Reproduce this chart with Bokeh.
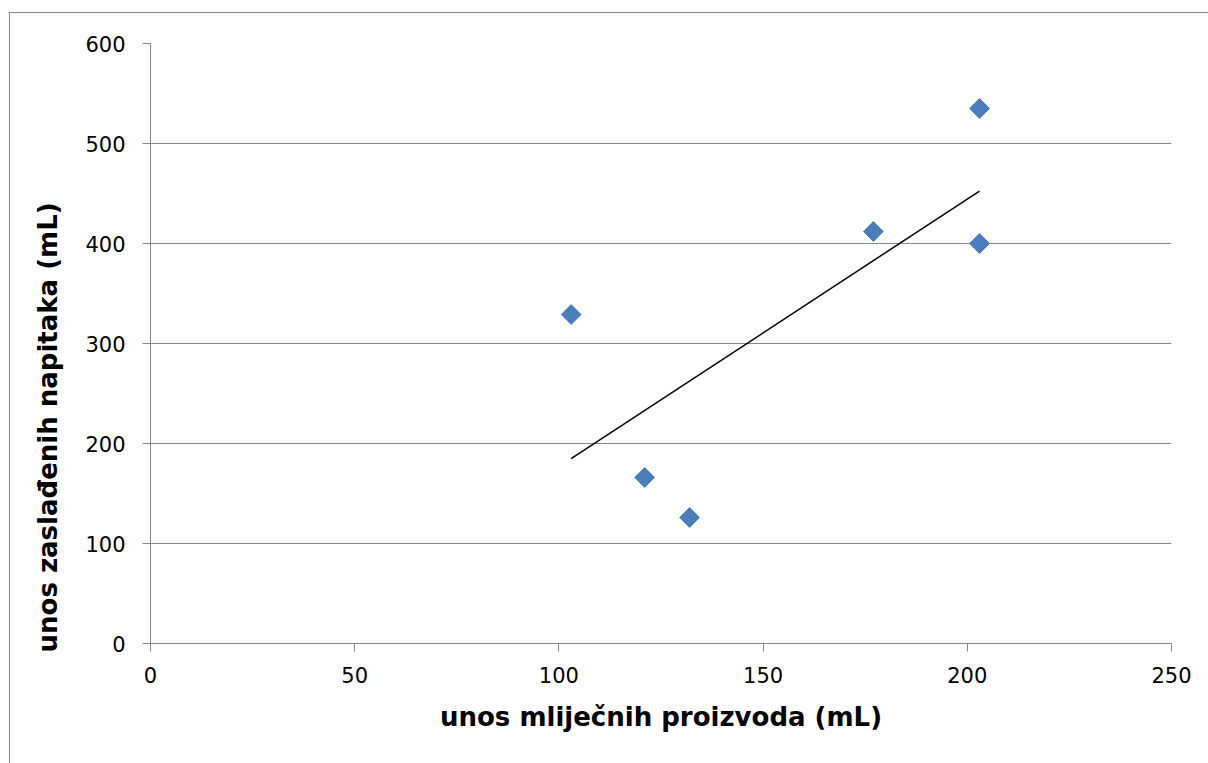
import math
import numpy as np
from bokeh.plotting import figure
from bokeh.models import Range1d, FixedTicker, Title
from bokeh.embed import file_html
from bokeh.resources import INLINE

# data
dairy_ml = [103, 121, 132, 177, 203, 203]
sweet_ml = [329, 166, 126, 412, 535, 400]
x_ticks = [0, 50, 100, 150, 200, 250]
y_ticks = [0, 100, 200, 300, 400, 500, 600]
x_title = "unos mliječnih proizvoda (mL)"
y_title = "unos zaslađenih napitaka (mL)"

GREY = "#868686"
FONT = "DejaVu Sans"

p = figure(width=1199, height=751, output_backend="svg", toolbar_location=None,
           x_range=Range1d(0, 250), y_range=Range1d(0, 600),
           min_border_left=140, min_border_right=38, min_border_top=30, min_border_bottom=121)
p.margin = (12, 0, 0, 9)
p.styles = {"border-left": "1px solid " + GREY, "border-top": "1px solid " + GREY}
p.outline_line_color = None
p.background_fill_color = "white"
p.border_fill_color = "white"

p.xgrid.grid_line_color = None
p.ygrid.grid_line_color = GREY
p.ygrid.grid_line_width = 1
p.ygrid.ticker = FixedTicker(ticks=y_ticks)

for ax in (p.xaxis[0], p.yaxis[0]):
    ax.axis_line_color = GREY
    ax.major_tick_line_color = GREY
    ax.major_tick_out = 8
    ax.major_tick_in = 0
    ax.minor_tick_line_color = None
    ax.major_label_text_font = FONT
    ax.major_label_text_font_size = "21px"
    ax.major_label_text_color = "black"
    ax.axis_label_text_font = FONT
    ax.axis_label_text_font_style = "bold"
    ax.axis_label_text_font_size = "26px"
    ax.axis_label_text_color = "black"

p.xaxis.ticker = FixedTicker(ticks=x_ticks)
p.yaxis.ticker = FixedTicker(ticks=y_ticks)
p.xaxis.major_label_standoff = 15
p.yaxis.major_label_standoff = 17
p.xaxis.axis_label = x_title
p.xaxis.axis_label_standoff = 16

# y title in the left panel, starting just below the frame bottom like the original
p.add_layout(Title(text=y_title, align="left", offset=-9, standoff=38,
                   vertical_align="middle",
                   text_font=FONT, text_font_style="bold", text_font_size="26px",
                   text_color="black"), "left")

# linear trend line from the data
xa = np.array(dairy_ml, dtype=float)
ya = np.array(sweet_ml, dtype=float)
slope, intercept = np.polyfit(xa, ya, 1)
tx = [xa.min(), xa.max()]
ty = [slope * v + intercept for v in tx]
p.line(tx, ty, line_color="black", line_width=1.5)

p.scatter(dairy_ml, sweet_ml, marker="square", size=14, angle=math.pi / 4,
          fill_color="#4a7ebb", line_color="#4a7ebb", line_width=1)

open("out.html", "w").write(file_html(p, INLINE))
